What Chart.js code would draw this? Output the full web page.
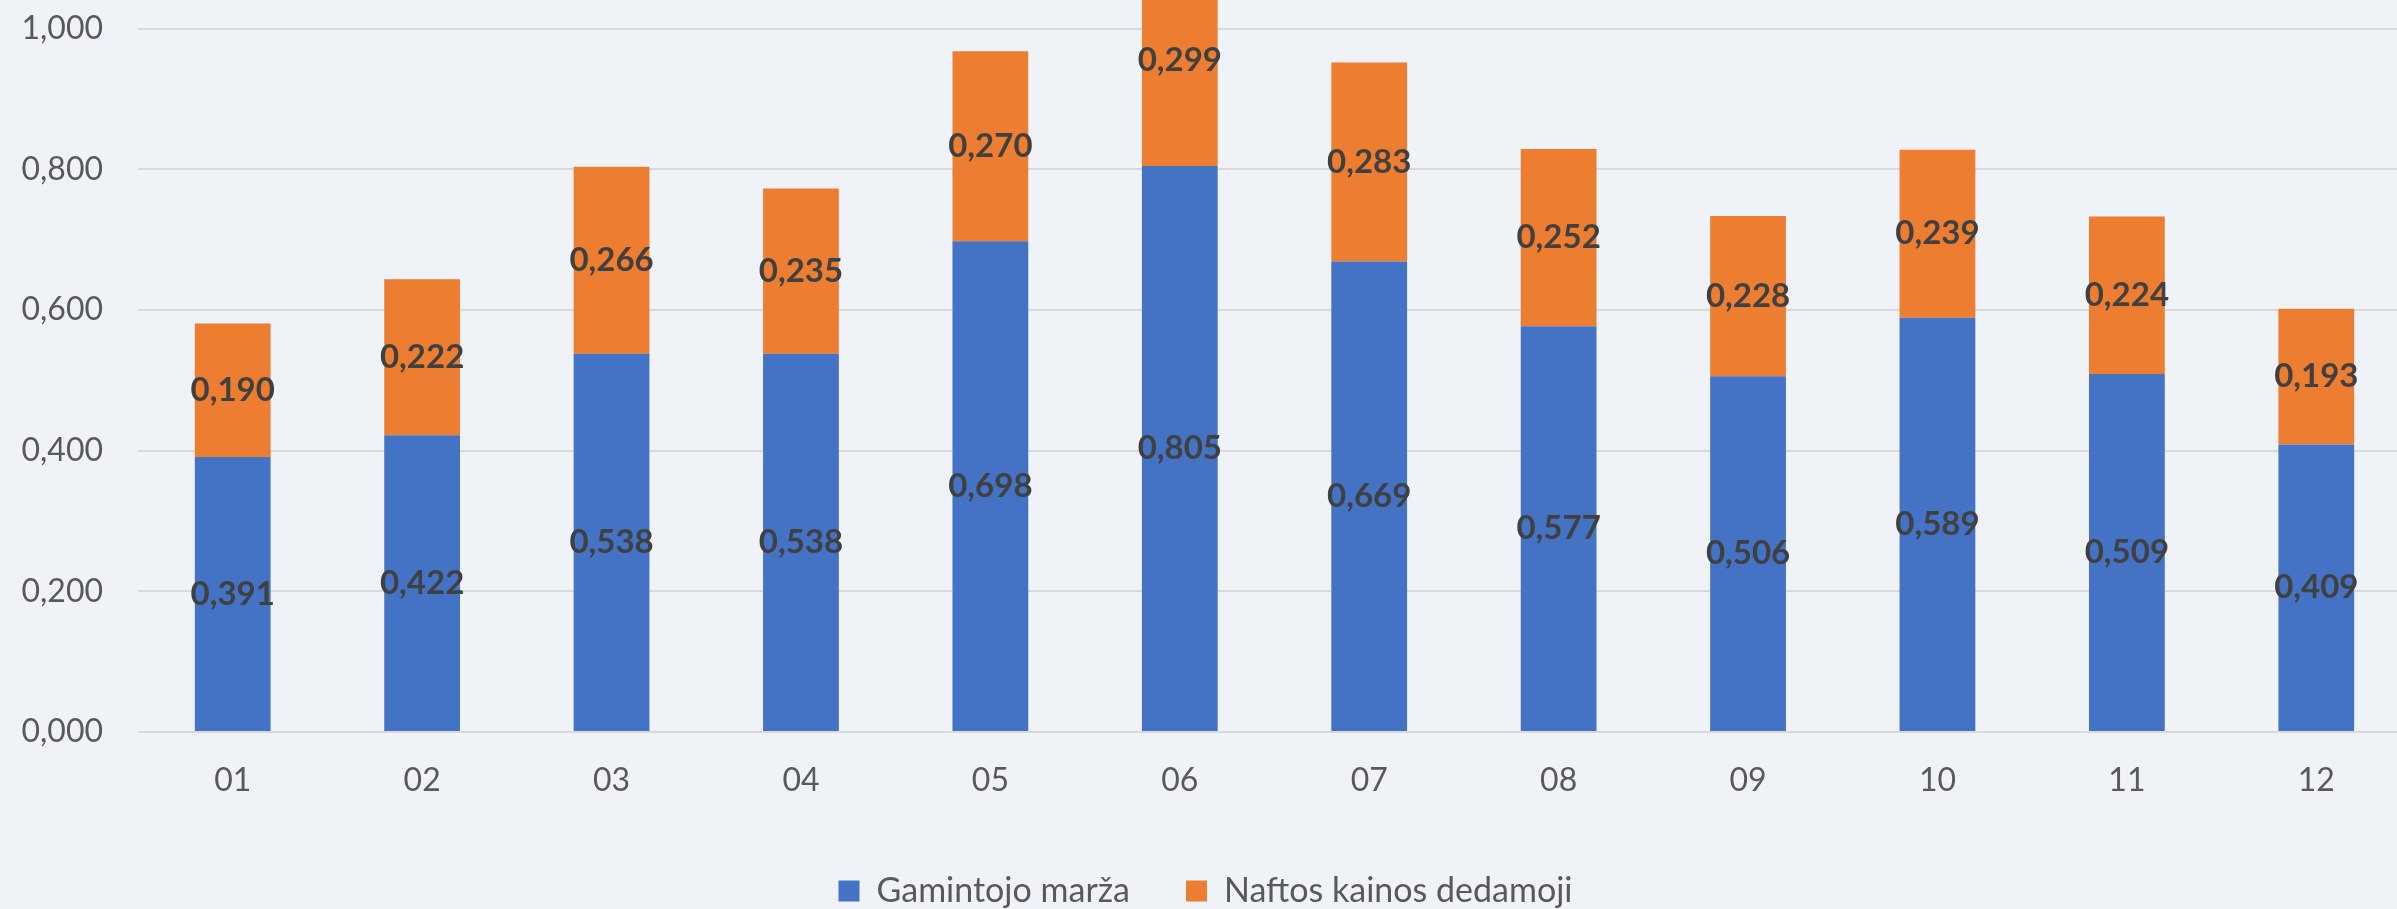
<!DOCTYPE html>
<html>
<head>
<meta charset="utf-8">
<script src="https://cdn.jsdelivr.net/npm/chart.js@4"></script>
<style>
  html, body { margin: 0; padding: 0; background: #eff3f7; overflow: hidden; width: 2397px; height: 909px; }
  #wrap { position: absolute; left: 0; top: -166px; }
</style>
</head>
<body>
<div id="wrap"><canvas id="chart" width="2411" height="1102"></canvas></div>
<script>
const months = ["01", "02", "03", "04", "05", "06", "07", "08", "09", "10", "11", "12"];
const margin = [0.391, 0.422, 0.538, 0.538, 0.698, 0.805, 0.669, 0.577, 0.506, 0.589, 0.509, 0.409];
const oilPart = [0.190, 0.222, 0.266, 0.235, 0.270, 0.299, 0.283, 0.252, 0.228, 0.239, 0.224, 0.193];
const yTicks = [0, 0.2, 0.4, 0.6, 0.8, 1.0, 1.2];

const fmt = (v) => v.toFixed(3).replace(".", ",");

// value labels in the middle of each stacked segment
const segmentLabels = {
  id: "segmentLabels",
  afterDatasetsDraw(chart) {
    const ctx = chart.ctx;
    ctx.save();
    ctx.font = "bold 33px Lato";
    ctx.fillStyle = "#404040";
    ctx.textAlign = "center";
    ctx.textBaseline = "middle";
    chart.data.datasets.forEach((ds, i) => {
      chart.getDatasetMeta(i).data.forEach((bar, j) => {
        const p = bar.getProps(["x", "y", "base"], true);
        ctx.fillText(fmt(ds.data[j]), p.x, (p.y + p.base) / 2);
      });
    });
    ctx.restore();
  }
};

new Chart(document.getElementById("chart"), {
  type: "bar",
  data: {
    labels: months,
    datasets: [
      { label: "Gamintojo marža", data: margin, backgroundColor: "#4472c4" },
      { label: "Naftos kainos dedamoji", data: oilPart, backgroundColor: "#ed7d31" }
    ]
  },
  options: {
    responsive: false,
    animation: false,
    devicePixelRatio: 1,
    layout: { padding: { top: 18, right: 0, bottom: 18, left: 0 } },
    datasets: { bar: { categoryPercentage: 1, barPercentage: 0.4 } },
    scales: {
      x: {
        stacked: true,
        grid: { display: false },
        border: { display: false },
        ticks: { color: "#595959", font: { family: "Lato", size: 32 }, padding: 21 },
        afterFit: (s) => { s.height = 86; }
      },
      y: {
        stacked: true,
        min: 0,
        max: yTicks[yTicks.length - 1],
        afterBuildTicks: (s) => { s.ticks = yTicks.map((v) => ({ value: v })); },
        grid: { color: "#d9d9d9", lineWidth: 2, drawTicks: false },
        border: { display: false },
        ticks: {
          color: "#595959",
          font: { family: "Lato", size: 32 },
          padding: 35,
          callback: (v) => fmt(v)
        },
        afterFit: (s) => { s.width = 138; }
      }
    },
    plugins: {
      legend: {
        position: "bottom",
        labels: {
          boxWidth: 21,
          boxHeight: 21,
          padding: 56,
          color: "#595959",
          font: { family: "Lato", size: 34 }
        }
      },
      tooltip: { enabled: false }
    }
  },
  plugins: [segmentLabels]
});
</script>
</body>
</html>
